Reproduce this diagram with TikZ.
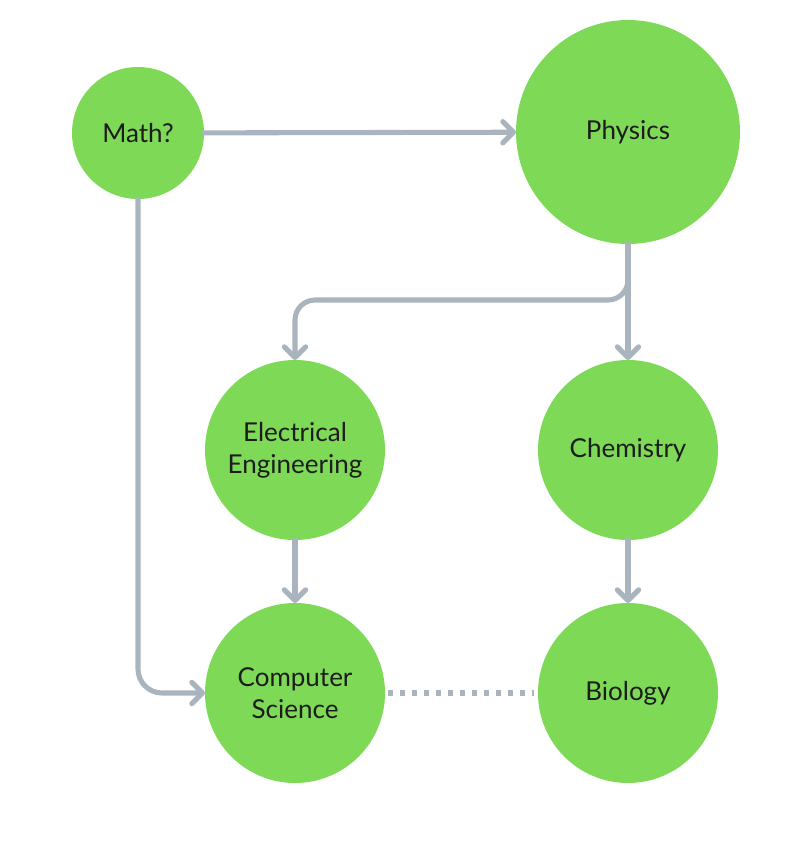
\documentclass[tikz,border=0pt]{standalone}
\usepackage{fontspec}
\setmainfont{Lato}
\usetikzlibrary{arrows.meta}
\definecolor{nodegreen}{HTML}{7ED957}
\definecolor{linegray}{HTML}{A9B4BE}
\definecolor{textdark}{HTML}{1C1C1C}
\begin{document}
\begin{tikzpicture}[x=0.75pt,y=-0.75pt,
  topic/.style={circle, fill=nodegreen, draw=none, inner sep=0pt, outer sep=0pt,
    align=center, text=textdark, font=\fontsize{19.5}{24}\selectfont},
  link/.style={draw=linegray, line width=3.8pt, line cap=round, line join=round},
  arr/.style={link, -{Straight Barb[length=8pt, width=16pt, line width=3.8pt, line cap=round, line join=round]}},
  dots/.style={draw=linegray, line width=3.8pt, line cap=butt, dash pattern=on 3.8pt off 5.2pt}]
\useasboundingbox (0,0) rectangle (798,864);
\node[topic, minimum size=99pt] (math) at (138,133) {Math?};
\node[topic, minimum size=168pt] (phys) at (628,132) {Physics};
\node[topic, minimum size=135pt] (ee) at (295,450) {Electrical\\Engineering};
\node[topic, minimum size=135pt] (chem) at (628,450) {Chemistry};
\node[topic, minimum size=135pt] (cs) at (295,693) {Computer\\Science};
\node[topic, minimum size=135pt] (bio) at (628,693) {Biology};
\coordinate (br) at (295,300);
\draw[arr] (math) -- (phys);
\draw[arr] (phys.south) -- (chem.north);
\draw[arr, rounded corners=15pt] (phys.south) |- (br) -- (ee.north);
\draw[arr, rounded corners=18pt] (math.south) |- (cs.west);
\draw[arr] (ee.south) -- (cs.north);
\draw[arr] (chem.south) -- (bio.north);
\draw[dots] ([xshift=2pt]cs.east) -- ([xshift=-3pt]bio.west);
\end{tikzpicture}
\end{document}
